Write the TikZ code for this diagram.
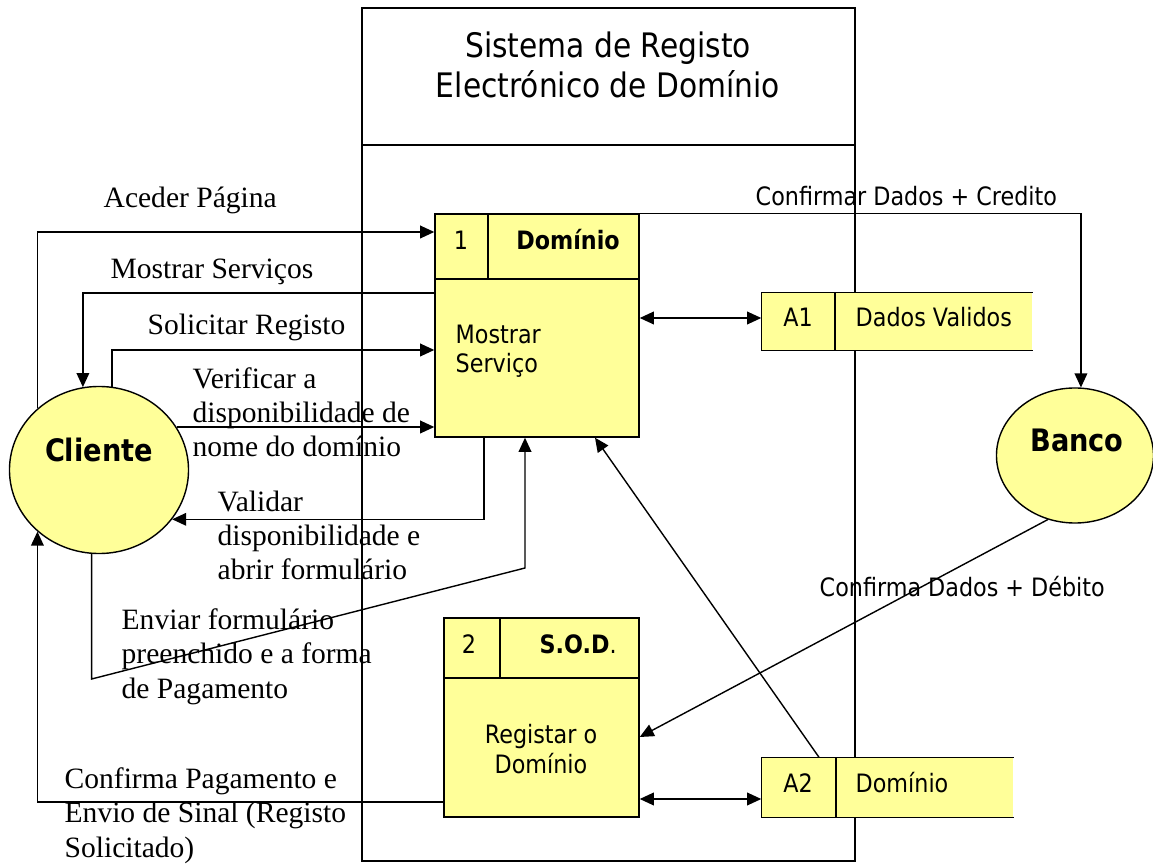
\documentclass[tikz,border=0pt]{standalone}
\usepackage{fontspec}
\setmainfont{Liberation Serif}
\newfontfamily\boxfont[FakeStretch=0.88]{DejaVu Sans}
\usetikzlibrary{positioning,arrows.meta,shapes.geometric}
\definecolor{procyellow}{RGB}{255,255,153}

\begin{document}
\begin{tikzpicture}[
    x=0.025cm, y=-0.025cm,
    line width=1pt,
    procbox/.style = {rectangle, draw, fill=procyellow, inner sep=0pt},
    storebox/.style = {rectangle, fill=procyellow, inner sep=0pt},
    entity/.style = {ellipse, draw, fill=procyellow, inner sep=0pt},
    entitytext/.style = {inner sep=0pt, font=\boxfont\fontsize{22}{26}\selectfont\bfseries},
    boxtext/.style = {inner sep=0pt, align=left, font=\boxfont\fontsize{18}{21.3}\selectfont},
    titletext/.style = {inner sep=0pt, align=center, font=\boxfont\fontsize{24}{28.5}\selectfont},
    flowlabel/.style = {inner sep=0pt, align=left, font=\fontsize{21}{24.3}\selectfont},
    arrow/.style = {-{Triangle[length=10pt,width=9pt]}},
    darrow/.style = {{Triangle[length=10pt,width=9pt]}-{Triangle[length=10pt,width=9pt]}}
]
\useasboundingbox (0,0) rectangle (1153,865);

% System boundary
\node[draw, minimum width=12.325cm, minimum height=21.325cm, inner sep=0pt] (sistema) at (608.5,434.5) {};
\draw (sistema.west |- 0,145) -- (sistema.east |- 0,145);
\node[titletext] (titulo) at (608,65) {Sistema de Registo\\Electrónico de Domínio};

% Entities
\node[entity, minimum width=4.475cm, minimum height=4.175cm] (cliente) at (99,470) {};
\node[entitytext, anchor=base] (clientetxt) at (99,462) {Cliente};
\node[entity, minimum width=3.925cm, minimum height=3.375cm] (banco) at (1075,455.5) {};
\node[entitytext, anchor=base] (bancotxt) at (1077,452) {Banco};

% Process 1
\node[procbox, minimum width=5.1cm, minimum height=5.575cm] (p1) at (537,325.5) {};
\draw (p1.west |- 0,279) -- (p1.east |- 0,279);
\draw (p1.north -| 488,0) -- (488,279);
\node[boxtext, anchor=base] (p1num) at (461,250) {1};
\node[boxtext, anchor=base] (p1title) at (568,250) {\textbf{Domínio}};
\node[boxtext, anchor=base west] (p1name) at (455,373) {Mostrar\\Serviço};

% Process 2
\node[procbox, minimum width=4.875cm, minimum height=4.975cm] (p2) at (541.5,717.5) {};
\draw (p2.west |- 0,678) -- (p2.east |- 0,678);
\draw (p2.north -| 500,0) -- (500,678);
\node[boxtext, anchor=base] (p2num) at (469,653) {2};
\node[boxtext, anchor=base west] (p2title) at (539,653) {\textbf{S.O.D}.};
\node[boxtext, align=center, anchor=base] (p2name) at (541,773) {Registar o\\Domínio};

% Data stores
\node[storebox, minimum width=6.75cm, minimum height=1.425cm] (a1) at (897,321.5) {};
\draw (a1.north east) -- (a1.north west) -- (a1.south west) -- (a1.south east);
\draw (a1.north -| 835,0) -- (a1.south -| 835,0);
\node[boxtext, anchor=base] (a1id) at (798,327) {A1};
\node[boxtext, anchor=base west] (a1name) at (855,327) {Dados Validos};

\node[storebox, minimum width=6.275cm, minimum height=1.475cm] (a2) at (887.5,787.5) {};
\draw (a2.north east) -- (a2.north west) -- (a2.south west) -- (a2.south east);
\draw (a2.north -| 836,0) -- (a2.south -| 836,0);
\node[boxtext, anchor=base] (a2id) at (798,792) {A2};
\node[boxtext, anchor=base west] (a2name) at (855,792) {Domínio};

% Flows
\draw[arrow] (cliente.135) |- (p1.west |- 0,232);
\draw[arrow] (p1.west |- 0,293) -| (cliente.101);
\draw[arrow] (cliente.81) |- (p1.west |- 0,350);
\draw[arrow] (cliente.29) -- (cliente.29 -| p1.west);
\draw[arrow] (p1.south -| 484,0) |- (cliente.326);
\draw[arrow] (cliente.265) -- (cliente.265 |- 0,679) -- (525,568) -- (p1.south -| 525,0);
\draw[arrow] (p2.west |- 0,802) -| (cliente.225);
\draw[darrow] (p1.east |- 0,318) -- (a1.west |- 0,318);
\draw[arrow] (p1.north east) -| (banco.85);
\draw[arrow] (banco.247) -- (p2.east |- 0,737);
\draw[arrow] (a2.north -| 819,0) -- (p1.south -| 595,0);
\draw[darrow] (p2.east |- 0,799) -- (a2.west |- 0,799);

% Flow labels
\node[flowlabel, anchor=base west] (lbaceder) at (103,208) {Aceder Página};
\node[flowlabel, anchor=base west] (lbmostrar) at (110,279) {Mostrar Serviços};
\node[flowlabel, anchor=base west] (lbsolicitar) at (147,335) {Solicitar Registo};
\node[flowlabel, anchor=base west] (lbverificar) at (192,457) {Verificar a\\disponibilidade de\\nome do domínio};
\node[flowlabel, anchor=base west] (lbvalidar) at (217,580) {Validar\\disponibilidade e\\abrir formulário};
\node[flowlabel, anchor=base west] (lbenviar) at (121,698) {Enviar formulário\\preenchido e a forma\\de Pagamento};
\node[flowlabel, anchor=base west] (lbconfirma) at (64,857) {Confirma Pagamento e\\Envio de Sinal (Registo\\Solicitado)};
\node[boxtext, anchor=base west] (lbcredito) at (755,206) {Confirmar Dados + Credito};
\node[boxtext, anchor=base west] (lbdebito) at (819,597) {Confirma Dados + Débito};

\end{tikzpicture}
\end{document}
